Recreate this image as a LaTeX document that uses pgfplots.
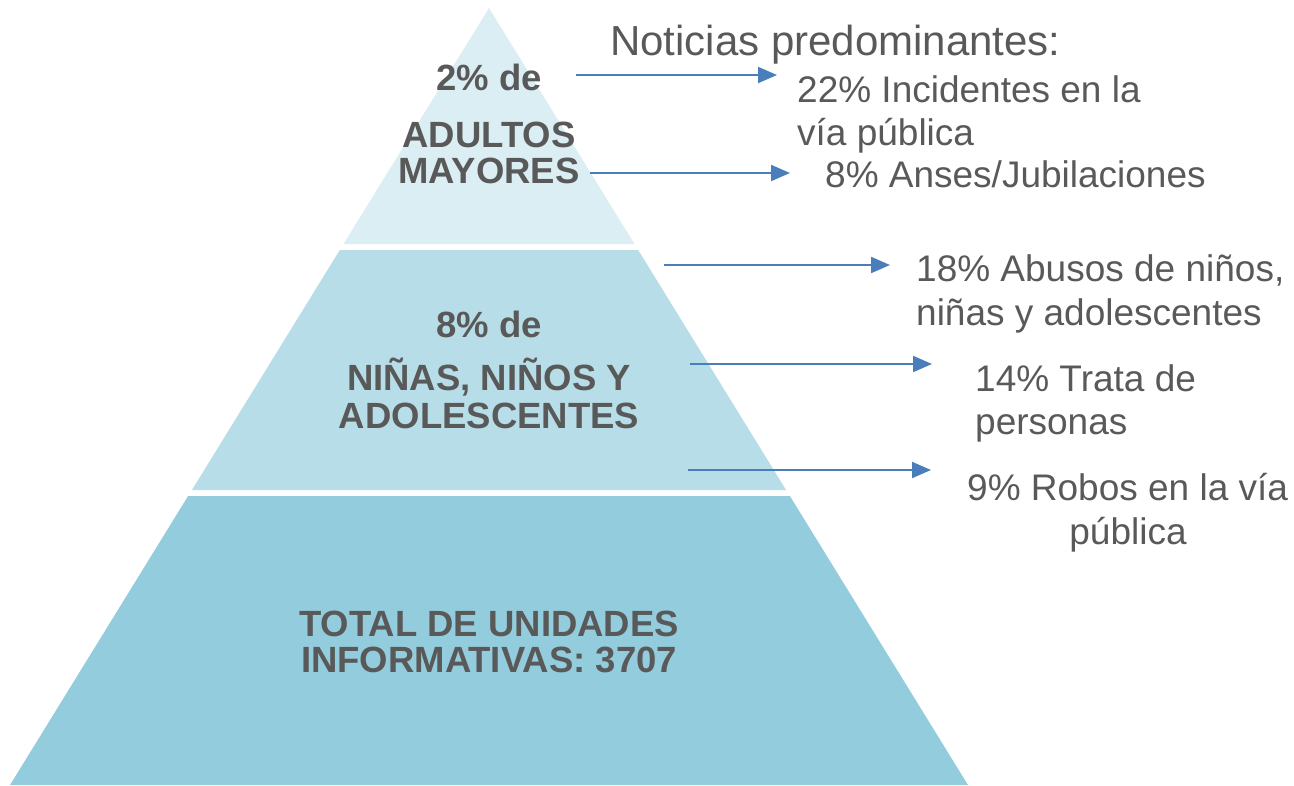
\documentclass[border=0pt]{standalone}
\usepackage{pgfplots}
\pgfplotsset{compat=1.18}
\usepackage{fontspec}
\setmainfont{Liberation Sans}
\usetikzlibrary{arrows.meta}
\definecolor{cA}{HTML}{DBEEF4}
\definecolor{cB}{HTML}{B7DEE8}
\definecolor{cC}{HTML}{93CDDD}
\definecolor{tx}{HTML}{595959}
\definecolor{ar}{HTML}{4A7EBB}
\begin{document}
\begin{tikzpicture}
\begin{axis}[
  width=1294pt, height=785pt, scale only axis,
  xmin=0, xmax=1294, ymin=0, ymax=785, y dir=reverse,
  hide axis, clip=false,
]
% pyramid
\addplot[fill=cA, draw=none] coordinates {(489,8) (634.5,244) (343.5,244) (489,8)};
\addplot[fill=cB, draw=none] coordinates {(339.8,250) (638.2,250) (786.1,490) (191.9,490) (339.8,250)};
\addplot[fill=cC, draw=none] coordinates {(188.1,496) (789.9,496) (968,785) (10,785) (188.1,496)};
% arrows
\pgfplotsset{arr/.style={ar, line width=2pt, -{Triangle[length=19pt,width=16pt]}}}
\addplot[arr] coordinates {(576,75) (777,75)};
\addplot[arr] coordinates {(590,173) (790,173)};
\addplot[arr] coordinates {(664,265) (890,265)};
\addplot[arr] coordinates {(690,364) (932,364)};
\addplot[arr] coordinates {(688,470) (931,470)};
% bold labels
\begin{scope}[every node/.append style={text=tx, font=\fontsize{36.5}{44}\selectfont\bfseries, anchor=base}]
\node at (axis cs:489,90) {2\% de};
\node at (axis cs:489,147) {ADULTOS};
\node at (axis cs:489,183) {MAYORES};
\node at (axis cs:489,337) {8\% de};
\node at (axis cs:489,390) {NIÑAS, NIÑOS Y};
\node at (axis cs:489,428) {ADOLESCENTES};
\node at (axis cs:489,636) {TOTAL DE UNIDADES};
\node at (axis cs:489,672) {INFORMATIVAS: 3707};
\end{scope}
% right texts
\node[text=tx, font=\fontsize{42}{50}\selectfont, anchor=base west, inner sep=0pt] at (axis cs:610,55) {Noticias predominantes:};
\begin{scope}[every node/.append style={text=tx, font=\fontsize{37}{44}\selectfont, anchor=base west, inner sep=0pt}]
\node at (axis cs:797,102) {22\% Incidentes en la};
\node at (axis cs:797,145) {vía pública};
\node at (axis cs:825,187) {8\% Anses/Jubilaciones};
\node at (axis cs:916,281) {18\% Abusos de niños,};
\node at (axis cs:916,325) {niñas y adolescentes};
\node at (axis cs:975,391) {14\% Trata de};
\node at (axis cs:975,434) {personas};
\node at (axis cs:967,500) {9\% Robos en la vía};
\node[anchor=base] at (axis cs:1128,544) {pública};
\end{scope}
\end{axis}
\pgfresetboundingbox
\path (current axis.south west) rectangle (current axis.north east);
\end{tikzpicture}
\end{document}
